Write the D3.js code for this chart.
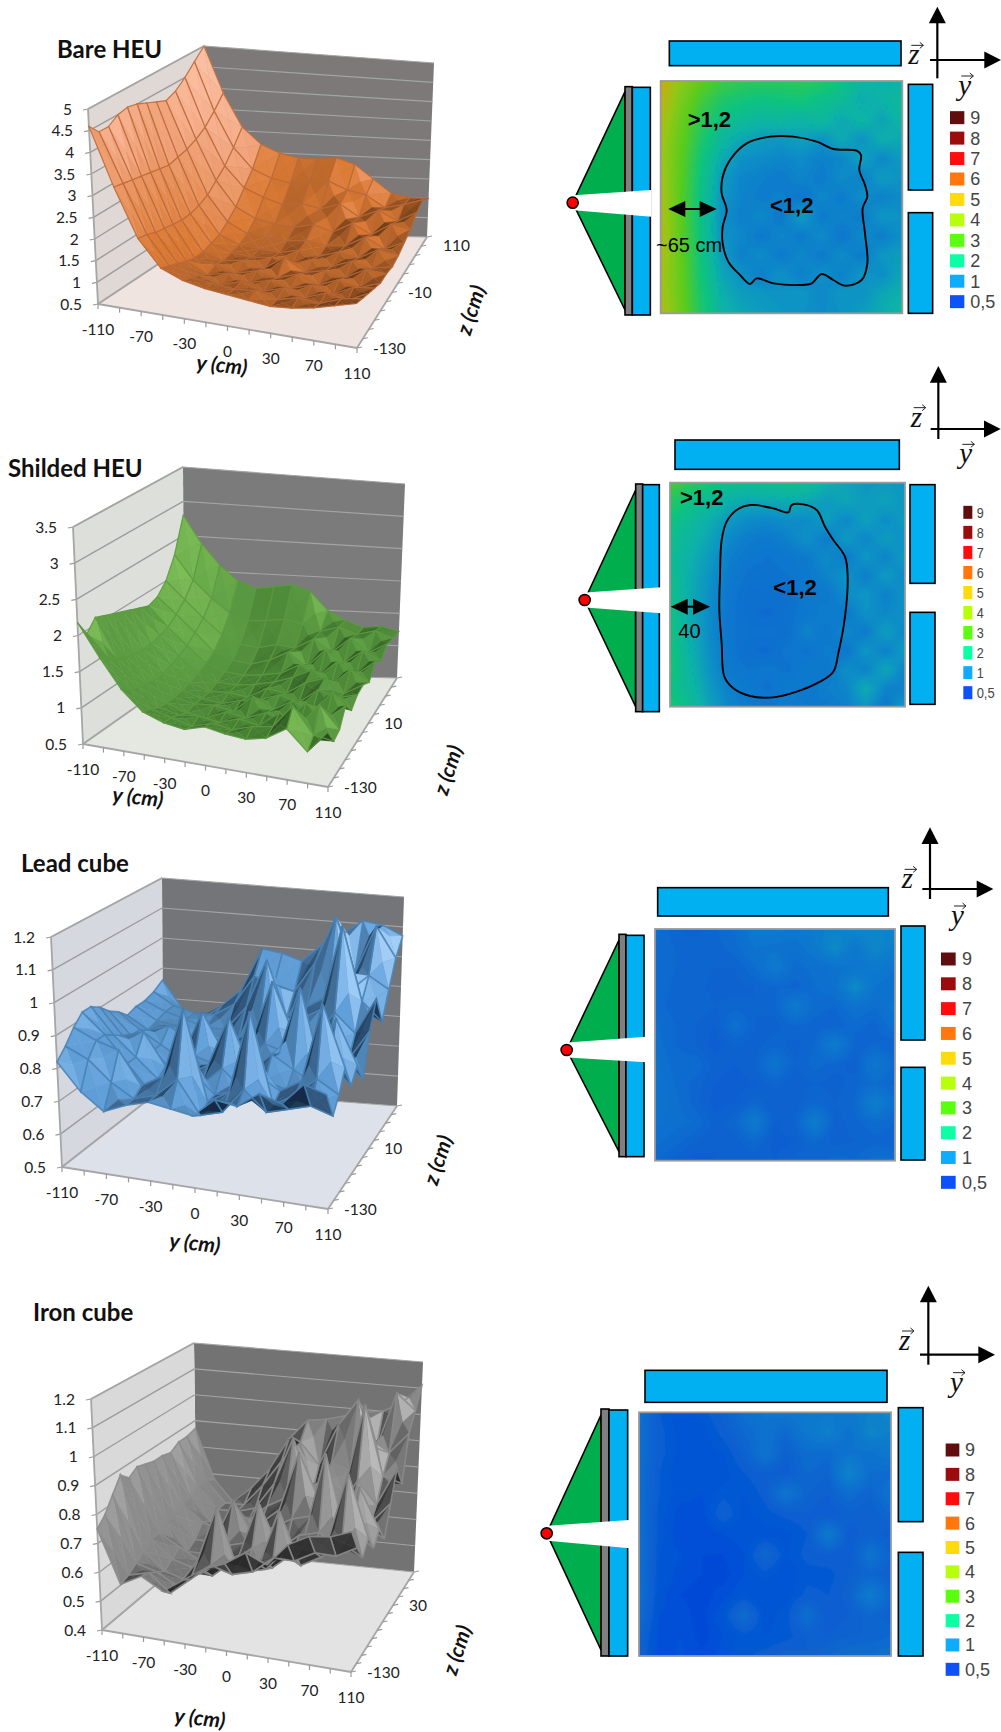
<!DOCTYPE html>
<html><head><meta charset="utf-8">
<script src="https://cdnjs.cloudflare.com/ajax/libs/d3/7.8.5/d3.min.js"></script>
<style>html,body{margin:0;background:#fff}svg{display:block}</style></head>
<body><svg id="c" width="1001" height="1732" xmlns="http://www.w3.org/2000/svg"></svg>
<script>
const yCats=[-110,-90,-70,-50,-30,-10,0,10,30,50,70,90,110];
const zCats=[-130,-110,-90,-70,-50,-30,-10,10,30,50,70,90,110];
const yLabels=[-110,-70,-30,0,30,70,110];
const legendLabels=["9","8","7","6","5","4","3","2","1","0,5"];
const legendColors=["#5a0000","#960000","#ff0000","#ff7000","#ffd800","#b4ff00","#50ff00","#00ffa0","#00a8ff","#0048f8"];
const heatStops=[.5,.7,.85,1,1.2,1.5,2,3,4,5];
const heatColors=["#0048d8","#0860d0","#0a70cf","#0a7ccc","#0a94c4","#07b2a8","#10c47c","#58cc20","#94c818","#d0a810"];

// rows run from z=110 (back) to z=-130 (front); columns from y=-110 to y=110
const bareValues=[
[5.00,3.90,3.10,2.70,2.50,2.40,2.40,2.45,2.30,1.95,1.60,1.50,1.50],
[4.75,3.60,2.75,2.25,2.05,1.95,2.00,2.05,1.85,1.75,1.45,1.55,1.70],
[4.50,3.35,2.45,1.95,1.75,1.60,1.65,1.55,1.70,1.40,1.60,1.35,1.60],
[4.30,3.20,2.25,1.65,1.40,1.30,1.25,1.35,1.20,1.45,1.20,1.50,1.40],
[4.20,3.10,2.05,1.45,1.20,1.15,1.10,1.15,1.05,1.10,1.35,1.10,1.30],
[4.30,3.05,1.95,1.30,1.10,1.05,1.00,1.10,1.00,1.15,1.05,1.30,1.20],
[4.40,3.00,1.90,1.25,1.08,1.02,1.06,0.95,1.12,1.00,1.18,1.05,1.15],
[4.50,3.05,1.90,1.20,1.05,1.12,0.98,1.30,1.00,1.10,1.00,1.25,1.20],
[4.55,3.10,1.95,1.22,1.12,0.98,1.10,1.00,1.15,0.95,1.15,1.02,1.20],
[4.50,3.15,2.00,1.30,1.05,1.15,1.00,1.12,1.00,1.15,1.00,1.25,1.30],
[4.35,3.20,2.05,1.40,1.20,1.05,1.20,1.05,1.20,1.05,1.25,1.15,1.40],
[4.35,3.25,2.15,1.50,1.30,1.25,1.20,1.25,1.12,1.25,1.20,1.40,1.50],
[4.60,3.30,2.20,1.60,1.40,1.30,1.25,1.20,1.15,1.20,1.30,1.45,1.60]];
const shieldedValues=[
[2.80,2.40,2.10,1.88,1.78,1.82,1.86,1.78,1.50,1.36,1.26,1.29,1.22],
[2.30,1.95,1.70,1.50,1.40,1.42,1.45,1.40,1.30,1.38,1.28,1.35,1.25],
[2.00,1.75,1.50,1.28,1.15,1.12,1.18,1.15,1.30,1.12,1.35,1.15,1.30],
[1.85,1.62,1.38,1.12,1.02,0.98,1.06,1.20,1.00,1.28,1.10,1.30,1.18],
[1.80,1.52,1.28,1.05,0.95,0.92,0.95,1.00,1.15,1.00,1.25,1.08,1.30],
[1.85,1.48,1.22,1.00,0.90,0.88,0.92,0.98,1.08,1.22,1.02,1.28,1.12],
[1.90,1.45,1.18,0.96,0.86,0.88,0.84,1.00,0.96,1.15,1.25,1.05,1.22],
[1.95,1.45,1.15,0.95,0.86,0.82,0.90,0.95,1.05,0.98,1.20,1.12,1.20],
[2.00,1.48,1.15,0.94,0.88,0.90,0.85,1.10,0.95,1.12,1.00,1.32,1.10],
[2.05,1.52,1.18,0.95,0.85,0.82,0.95,0.90,1.02,0.95,1.25,1.05,1.30],
[2.10,1.58,1.22,0.98,0.92,0.95,0.90,1.00,0.95,1.18,1.05,1.40,1.08],
[1.95,1.66,1.28,1.05,0.98,0.90,1.00,0.95,1.05,1.10,1.45,1.08,1.04],
[2.18,1.75,1.36,1.10,1.00,0.96,1.05,1.00,0.98,1.05,1.24,0.96,1.30]];
const leadValues=[
[.86,.77,.74,.79,.85,.99,.98,.96,1.02,1.06,1.11,1.10,1.07],
[.84,.80,.78,.78,.82,.92,.90,.88,.98,1.14,.96,1.12,1.02],
[.83,.80,.78,.76,.76,.84,1.00,.82,.86,.90,.92,.98,.94],
[.83,.79,.78,.74,.74,.76,.80,.78,.84,.88,1.16,.92,.86],
[.82,.78,.80,.76,.78,.76,.78,.98,.82,.80,.90,.84,.96],
[.85,.80,.76,.72,.88,.76,.74,.80,.78,.76,.82,.78,.88],
[.87,.80,.76,.70,.76,.74,.78,.74,.80,1.02,.76,.80,.75],
[.90,.82,.84,.74,.72,.76,.92,.76,.82,.78,.74,.96,.82],
[.92,.84,.78,.72,.70,.72,.78,.72,.76,.74,.78,.84,.78],
[.92,.86,.78,.70,.72,.78,.72,.74,.80,.76,.80,1.05,.86],
[.89,.86,.84,.74,.78,1.00,.72,.76,1.02,.74,.78,.84,.80],
[.85,.82,.76,.72,.74,.80,.70,.72,.80,.74,.76,.78,.76],
[.82,.74,.69,.72,.74,.73,.72,.78,.77,.82,.80,.87,.85]];
const ironValues=[
[.87,.68,.60,.66,.74,.86,.94,.95,.97,.99,1.00,1.04,1.11],
[.86,.70,.62,.62,.70,.80,.88,.80,.96,1.06,.88,1.10,1.04],
[.86,.70,.62,.62,.64,.74,.92,.72,.84,.82,.92,.90,.98],
[.84,.68,.60,.60,.62,.68,.72,.70,.80,.76,1.10,.84,.82],
[.85,.68,.62,.60,.66,.64,.70,.92,.76,.72,.84,.76,.90],
[.85,.66,.58,.58,.74,.62,.66,.70,.72,.68,.74,.72,.80],
[.86,.66,.56,.56,.60,.62,.62,.62,.68,.98,.70,.74,.70],
[.87,.64,.60,.56,.56,.60,.80,.64,.70,.72,.68,.90,.76],
[.85,.64,.58,.56,.54,.60,.66,.60,.66,.66,.72,.78,.72],
[.88,.62,.56,.54,.58,.64,.60,.62,.70,.68,.74,1.00,.78],
[.83,.60,.58,.54,.64,.84,.62,.66,.86,.68,.72,.78,.74],
[.78,.58,.60,.54,.60,.66,.64,.66,.72,.72,.76,.76,.80],
[.75,.57,.61,.57,.62,.67,.70,.75,.72,.80,.84,.85,.88]];

const bareTicks=["0.5","1","1.5","2","2.5","3","3.5","4","4.5","5"];
const shieldedTicks=["0.5","1","1.5","2","2.5","3","3.5"];
const leadTicks=["0.5","0.6","0.7","0.8","0.9","1","1.1","1.2"];
const ironTicks=["0.4","0.5","0.6","0.7","0.8","0.9","1","1.1","1.2"];

const panels=[
 {title:"Bare HEU",tx:57,ty:58,values:bareValues,vt:bareTicks,zl:[-130,-10,110],
  FLB:[98,304],FLT:[88,109],BLT:[204,46],BRT:[434,63],BRB:[427,237],FRB:[357,348],BLB:[205,233],
  wall:"#7d7978",left:"#dfd8d5",floor:"#efe4df",ramp:["#4a2810","#9c5522","#dc7a34","#f6ac88","#fdd0b8"],wire:"#b8683a",ww:1.2,tint:.42,tc:.25,
  yT:[222,365],zT:[471,310],
  ox:540,oy:0,box:[362,243,1087,940],bar:[388,123,1083,197],plate:[255,260,277,945],blue:[277,262,331,945],apex:[98,608],wedge:[331,570,650],tri:[275,930],
  rb:[[1105,253,1178,570],[1105,638,1178,940]],lg:[1230,1273,353,905,1291,48],ax:[1192,207,20,1170,1383,180],zL:[1105,193],yL:[1255,285],
  gt:[[">1,2",443,380],["<1,2",690,638]],dbl:[385,530,627],note:["~65 cm",348,757],
  loop:[[545,580],[548,530],[570,480],[620,430],[690,410],[760,410],[830,425],[880,447],[950,452],[963,465],[958,510],[975,555],[982,590],[968,625],[975,700],[982,790],[965,840],[915,857],[880,840],[845,822],[815,850],[780,855],[700,850],[650,835],[630,852],[600,825],[565,785],[548,730],[548,680],[560,630]]},
 {title:"Shilded HEU",tx:8,ty:477,values:shieldedValues,vt:shieldedTicks,zl:[-130,10],
  FLB:[83,744],FLT:[73,527],BLT:[183,467],BRT:[405,484],BRB:[397,678],FRB:[328,787],BLB:[184,673],
  wall:"#7b7b7b",left:"#dde0da",floor:"#e5e7e1",ramp:["#25481a","#437c30","#5c9c42","#8fd062","#c4f09a"],wire:"#5d9a42",ww:1.2,tint:.1,tc:.25,
  yT:[138,797],zT:[448,770],
  ox:540,oy:360,box:[390,368,1095,1040],bar:[405,240,1078,328],plate:[287,372,308,1055],blue:[308,374,358,1055],apex:[134,720],wedge:[360,682,760],tri:[390,1040],
  rb:[[1110,374,1185,670],[1110,757,1185,1033]],lg:[1270,1297,457,998,1310,38,true],ax:[1195,207,18,1172,1382,207],zL:[1112,200],yL:[1258,310],
  gt:[[">1,2",420,435],["<1,2",700,705]],dbl:[392,510,740],note:["40",415,835],
  loop:[[540,650],[545,540],[560,485],[590,450],[630,435],[700,445],[745,457],[755,435],[790,433],[830,450],[855,500],[880,540],[915,590],[923,650],[915,770],[895,880],[880,935],[840,965],[770,995],[700,1012],[630,1008],[580,985],[553,950],[545,850],[538,750]]},
 {title:"Lead cube",tx:21,ty:872,values:leadValues,vt:leadTicks,zl:[-130,10],
  FLB:[62,1167],FLT:[51,937],BLT:[162,878],BRT:[404,897],BRB:[397,1106],FRB:[328,1209],BLB:[163,1088],
  wall:"#737578",left:"#d5d8df",floor:"#dde1ea",ramp:["#152c46","#4a7dac","#62a0da","#9ccbf6","#e4f0ff"],wire:"#4a82b4",ww:1.6,tint:.55,tc:.5,
  yT:[195,1243],zT:[438,1160],
  ox:540,oy:810,box:[345,357,1065,1052],bar:[353,233,1045,318],plate:[237,373,258,1040],blue:[258,376,312,1040],apex:[80,720],wedge:[315,680,757],tri:[390,1025],
  rb:[[1083,348,1155,690],[1083,772,1155,1050]],lg:[1203,1247,447,1117,1266,52],ax:[1170,237,52,1147,1360,237],zL:[1085,235],yL:[1233,345]},
 {title:"Iron cube",tx:33,ty:1321,values:ironValues,vt:ironTicks,zl:[-130,30],
  FLB:[102,1630],FLT:[91,1399],BLT:[194,1343],BRT:[423,1362],BRB:[414,1572],FRB:[351,1672],BLB:[197,1550],
  wall:"#737373",left:"#d9d9d9",floor:"#e3e3e3",ramp:["#2c2c2c","#686868","#8e8e8e","#bcbcbc","#ffffff"],wire:"#8c8c8c",ww:1.6,tint:.6,tc:.5,
  yT:[200,1718],zT:[457,1650],
  ox:520,oy:1270,box:[357,427,1113,1158],bar:[375,301,1101,397],plate:[243,417,267,1158],blue:[267,420,323,1158],apex:[80,790],wedge:[325,750,835],tri:[435,1140],
  rb:[[1135,413,1209,755],[1135,847,1209,1158]],lg:[1277,1318,540,1198,1335,52],ax:[1225,254,47,1200,1425,254],zL:[1137,240],yL:[1290,365]}
];

const svg=d3.select("#c");
const defs=svg.append("defs");
defs.append("filter").attr("id","soft").append("feGaussianBlur").attr("stdDeviation",.55);
defs.append("filter").attr("id","soft2").append("feGaussianBlur").attr("stdDeviation",1.2);
const line=d3.line();
const poly=pts=>line(pts)+"Z";
const heat=d3.scaleLinear().domain(heatStops).range(heatColors).clamp(true);
const yScale=d3.scalePoint().domain(yCats).range([0,1]);
const zScale=d3.scalePoint().domain(zCats).range([0,1]);
const lerp=(a,b,t)=>[a[0]+(b[0]-a[0])*t,a[1]+(b[1]-a[1])*t];

panels.forEach((p,pi)=>{
 const g=svg.append("g").attr("class","panel-"+pi);
 const n=p.vt.length, vMin=+p.vt[0], vMax=+p.vt[n-1];
 const vScale=d3.scaleLinear().domain([vMin,vMax]).range([0,1]);
 const FRT=[p.FRB[0]+p.FLT[0]-p.FLB[0]+p.BRT[0]-p.BRB[0]-p.BLT[0]+p.BLB[0],
            p.FRB[1]+p.FLT[1]-p.FLB[1]+p.BRT[1]-p.BRB[1]-p.BLT[1]+p.BLB[1]];
 const proj=(u,w,h)=>lerp(
   lerp(lerp(p.FLB,p.FRB,u),lerp(p.BLB,p.BRB,u),w),
   lerp(lerp(p.FLT,FRT,u),lerp(p.BLT,p.BRT,u),w),h);
 const walls=g.append("g");
 walls.append("path").attr("d",poly([p.BLB,p.BRB,p.BRT,p.BLT])).attr("fill",p.wall);
 walls.append("path").attr("d",poly([p.FLB,p.BLB,p.BLT,p.FLT])).attr("fill",p.left);
 walls.append("path").attr("d",poly([p.FLB,p.FRB,p.BRB,p.BLB])).attr("fill",p.floor);
 p.vt.forEach(t=>{
   const h=vScale(+t), a=proj(0,0,h), b=proj(0,1,h), c=proj(1,1,h);
   walls.append("path").attr("d",line([a,b])).attr("stroke","#9c9c9c").attr("stroke-width",1.4).attr("fill","none");
   walls.append("path").attr("d",line([b,c])).attr("stroke","#a2a4a6").attr("stroke-width",1.1).attr("fill","none");
   walls.append("path").attr("d",line([a,[a[0]-5,a[1]+1]])).attr("stroke","#9a9a9a").attr("stroke-width",1.2);
   g.append("text").attr("x",a[0]-16).attr("y",a[1]).attr("dy","0.36em").attr("text-anchor","end")
     .attr("font-family","Lato").attr("font-size",15.5).attr("fill","#222").text(t);
 });
 const edge=(a,b)=>walls.append("path").attr("d",line([a,b])).attr("stroke","#a6a6a6").attr("stroke-width",1.8).attr("fill","none");
 edge(p.FLB,p.FLT);edge(p.FLT,p.BLT);edge(p.FLB,p.FRB);edge(p.FRB,p.BRB);edge(p.FLB,p.BLB);
 yCats.forEach(c=>{const a=proj(yScale(c),0,0);
   walls.append("path").attr("d",line([a,[a[0],a[1]+5]])).attr("stroke","#9a9a9a").attr("stroke-width",1.2);});
 zCats.forEach(c=>{const a=proj(1,zScale(c),0);
   walls.append("path").attr("d",line([a,[a[0]+5,a[1]-1]])).attr("stroke","#9a9a9a").attr("stroke-width",1.2);});
 yLabels.forEach(c=>{const a=proj(yScale(c),0,0);
   g.append("text").attr("x",a[0]).attr("y",a[1]+25).attr("dy","0.36em").attr("text-anchor","middle")
    .attr("font-family","Lato").attr("font-size",15.5).attr("fill","#222").text(c);});
 p.zl.forEach(c=>{const a=proj(1,zScale(c),0);
   g.append("text").attr("x",a[0]+16).attr("y",a[1]+(c===110?8:0)).attr("dy","0.36em")
    .attr("font-family","Lato").attr("font-size",15.5).attr("fill","#222").text(c);});
 const N=yCats.length, M=zCats.length;
 const P=(i,rowBack)=>({u:yScale(yCats[i]),w:zScale(zCats[M-1-rowBack]),h:vScale(p.values[rowBack][i])});
 const ramp=d3.scaleLinear().domain([-.45,.25,.8,1.05,1.3]).range(p.ramp).clamp(true);
 const surf=g.append("g").attr("filter","url(#soft)");
 const L=[.75,-.45,.35];
 const facet=(a,b,c)=>{
   const e=[b.u-a.u,b.w-a.w,b.h-a.h], f=[c.u-a.u,c.w-a.w,c.h-a.h];
   let nx=e[1]*f[2]-e[2]*f[1], ny=e[2]*f[0]-e[0]*f[2], nz=e[0]*f[1]-e[1]*f[0];
   if(nz<0){nx=-nx;ny=-ny;nz=-nz;}
   const len=Math.hypot(nx,ny,nz)||1;
   const s=(nx*L[0]+ny*L[1]+nz*L[2])/len;
   return ramp(s+p.tint*((a.h+b.h+c.h)/3-p.tc));
 };
 const xy=q=>proj(q.u,q.w,q.h);
 for(let r=0;r<M-1;r++){ for(let i=N-2;i>=0;i--){
   const bl=P(i,r), br=P(i+1,r), fl=P(i,r+1), fr=P(i+1,r+1);
   const ce={u:(bl.u+br.u)/2,w:(bl.w+fl.w)/2,h:(bl.h+br.h+fl.h+fr.h)/4};
   [[bl,br],[br,fr],[bl,fl],[fl,fr]].forEach(([a,b])=>{
     const col=facet(a,b,ce);
     surf.append("path").attr("d",poly([xy(a),xy(b),xy(ce)])).attr("fill",col).attr("stroke",col).attr("stroke-width",.4);
   });
   surf.append("path").attr("d",poly([xy(bl),xy(br),xy(fr),xy(fl)])).attr("fill","none").attr("stroke",p.wire).attr("stroke-width",p.ww).attr("stroke-opacity",.85);
 }}
 g.append("text").attr("x",p.tx).attr("y",p.ty).attr("font-family","Lato").attr("font-weight",700).attr("font-size",24).attr("fill","#111").text(p.title);
 g.append("text").attr("transform",`translate(${p.yT[0]},${p.yT[1]}) rotate(6)`).attr("text-anchor","middle").attr("dy","0.35em")
   .attr("font-family","Lato").attr("font-weight",700).attr("font-style","italic").attr("font-size",21).attr("fill","#111").text("y (cm)");
 g.append("text").attr("transform",`translate(${p.zT[0]},${p.zT[1]}) rotate(-72)`).attr("text-anchor","middle").attr("dy","0.35em")
   .attr("font-family","Lato").attr("font-weight",700).attr("font-style","italic").attr("font-size",21).attr("fill","#111").text("z (cm)");

 const X=v=>p.ox+v/3, Y=v=>p.oy+v/3;
 const rect=(r,fill,sel=g,sw=1.6)=>sel.append("rect").attr("x",X(r[0])).attr("y",Y(r[1])).attr("width",(r[2]-r[0])/3).attr("height",(r[3]-r[1])/3).attr("fill",fill).attr("stroke","#000").attr("stroke-width",sw);
 const [bx0,by0,bx1,by1]=p.box;
 const k=6, gw=(N-1)*k+1;
 const grid=new Float64Array(gw*gw);
 for(let b=0;b<gw;b++)for(let a=0;a<gw;a++){
   const i0=Math.min(Math.floor(a/k),N-2), j0=Math.min(Math.floor(b/k),M-2), ta=a/k-i0, tb=b/k-j0;
   const V=p.values;
   grid[b*gw+a]=V[j0][i0]*(1-ta)*(1-tb)+V[j0][i0+1]*ta*(1-tb)+V[j0+1][i0]*(1-ta)*tb+V[j0+1][i0+1]*ta*tb;
 }
 const ext=d3.extent(grid);
 const cs=d3.contours().size([gw,gw]).thresholds(d3.range(Math.floor(ext[0]*25)/25,ext[1],.04))(grid);
 const clipId="clip"+pi;
 defs.append("clipPath").attr("id",clipId).append("rect").attr("x",X(bx0)).attr("y",Y(by0)).attr("width",(bx1-bx0)/3).attr("height",(by1-by0)/3);
 const hg=g.append("g").attr("clip-path",`url(#${clipId})`).append("g").attr("filter","url(#soft2)");
 hg.append("rect").attr("x",X(bx0)-4).attr("y",Y(by0)-4).attr("width",(bx1-bx0)/3+8).attr("height",(by1-by0)/3+8).attr("fill",heat(ext[0]));
 const sx=(bx1-bx0)/3/(gw-1), sy=(by1-by0)/3/(gw-1);
 const mapped=d3.geoPath(d3.geoTransform({point(x,y){this.stream.point(X(bx0)+(x-.5)*sx,Y(by0)+(y-.5)*sy);}}));
 hg.selectAll("path").data(cs).join("path").attr("d",mapped).attr("fill",d=>heat(d.value));
 g.append("rect").attr("x",X(bx0)).attr("y",Y(by0)).attr("width",(bx1-bx0)/3).attr("height",(by1-by0)/3).attr("fill","none").attr("stroke","#9a9a9a").attr("stroke-width",1.8);

 rect(p.bar,"#00b0f0");
 p.rb.forEach(r=>rect(r,"#00b0f0"));
 const ap=[X(p.apex[0]),Y(p.apex[1])];
 const tTop=[X(p.plate[0]),Y(p.tri[0])], tBot=[X(p.plate[0]),Y(p.tri[1])];
 g.append("path").attr("d",poly([ap,tTop,tBot])).attr("fill","#00ae4e").attr("stroke","#000").attr("stroke-width",1.6).attr("stroke-linejoin","round");
 rect(p.plate,"#7f7f7f");
 rect(p.blue,"#00b0f0");
 const w=p.wedge;
 g.append("path").attr("d",poly([[ap[0]+1,ap[1]-7.5],[X(w[0])+1,Y(w[1])],[X(w[0])+1,Y(w[2])],[ap[0]+1,ap[1]+7.5]])).attr("fill","#fff");
 g.append("circle").attr("cx",ap[0]).attr("cy",ap[1]).attr("r",5.6).attr("fill","#ff0000").attr("stroke","#000").attr("stroke-width",1.5);

 const lg=p.lg;
 const ly=d3.scalePoint().domain(legendLabels).range([Y(lg[2]),Y(lg[3])]);
 legendLabels.forEach((t,i)=>{
   const c=ly(t);
   g.append("rect").attr("x",X(lg[0])).attr("y",c-6.5).attr("width",(lg[1]-lg[0])/3).attr("height",13).attr("fill",legendColors[i]).attr("fill-opacity",.95);
   const txt=g.append("text").attr("x",X(lg[4])).attr("y",c).attr("dy","0.36em").attr("font-family","Liberation Sans").attr("font-size",lg[6]?15:18).attr("fill","#444").text(t);
   if(lg[6]) txt.attr("textLength",t.length>1?18:7).attr("lengthAdjust","spacingAndGlyphs");
 });

 const a=p.ax, arrowCol="#000";
 g.append("path").attr("d",line([[X(a[0]),Y(a[1]+(pi===0?28:30))],[X(a[0]),Y(a[2]+40)]])).attr("stroke",arrowCol).attr("stroke-width",2.2);
 g.append("path").attr("d",poly([[X(a[0]),Y(a[2])],[X(a[0])-8.5,Y(a[2]+50)],[X(a[0])+8.5,Y(a[2]+50)]])).attr("fill",arrowCol);
 g.append("path").attr("d",line([[X(a[3]),Y(a[5])],[X(a[4]-40),Y(a[5])]])).attr("stroke",arrowCol).attr("stroke-width",2.2);
 g.append("path").attr("d",poly([[X(a[4]),Y(a[5])],[X(a[4]-50),Y(a[5])-8.5],[X(a[4]-50),Y(a[5])+8.5]])).attr("fill",arrowCol);
 const vec=(l,pos)=>{
   const x=X(pos[0]), yb=Y(pos[1]);
   g.append("text").attr("x",x).attr("y",yb).attr("font-family","Liberation Serif").attr("font-style","italic").attr("font-size",29).attr("fill","#111").text(l);
   const ax0=x+3, ax1=x+15, ay=yb-19;
   g.append("path").attr("d",`M${ax0},${ay}H${ax1}M${ax1-3.5},${ay-3}L${ax1},${ay}L${ax1-3.5},${ay+3}`).attr("fill","none").attr("stroke","#222").attr("stroke-width",1);
 };
 vec("z",p.zL); vec("y",p.yL);

 if(p.loop){
   g.append("path").attr("d",d3.line().x(d=>X(d[0])).y(d=>Y(d[1])).curve(d3.curveCatmullRomClosed.alpha(.5))(p.loop)).attr("fill","none").attr("stroke","#000").attr("stroke-width",1.9);
   p.gt.forEach(t=>g.append("text").attr("x",X(t[1])).attr("y",Y(t[2])).attr("font-family","Liberation Sans").attr("font-weight",700).attr("font-size",22).attr("fill","#000").text(t[0]));
   const d=p.dbl, y0=Y(d[2]), x0=X(d[0]), x1=X(d[1]);
   g.append("path").attr("d",line([[x0+8,y0],[x1-8,y0]])).attr("stroke","#000").attr("stroke-width",2);
   g.append("path").attr("d",poly([[x0,y0],[x0+17,y0-8],[x0+17,y0+8]])).attr("fill","#000");
   g.append("path").attr("d",poly([[x1,y0],[x1-17,y0-8],[x1-17,y0+8]])).attr("fill","#000");
   g.append("text").attr("x",X(p.note[1])).attr("y",Y(p.note[2])).attr("font-family","Liberation Sans").attr("font-size",20).attr("fill","#000").text(p.note[0]);
 }
});
</script></body></html>
